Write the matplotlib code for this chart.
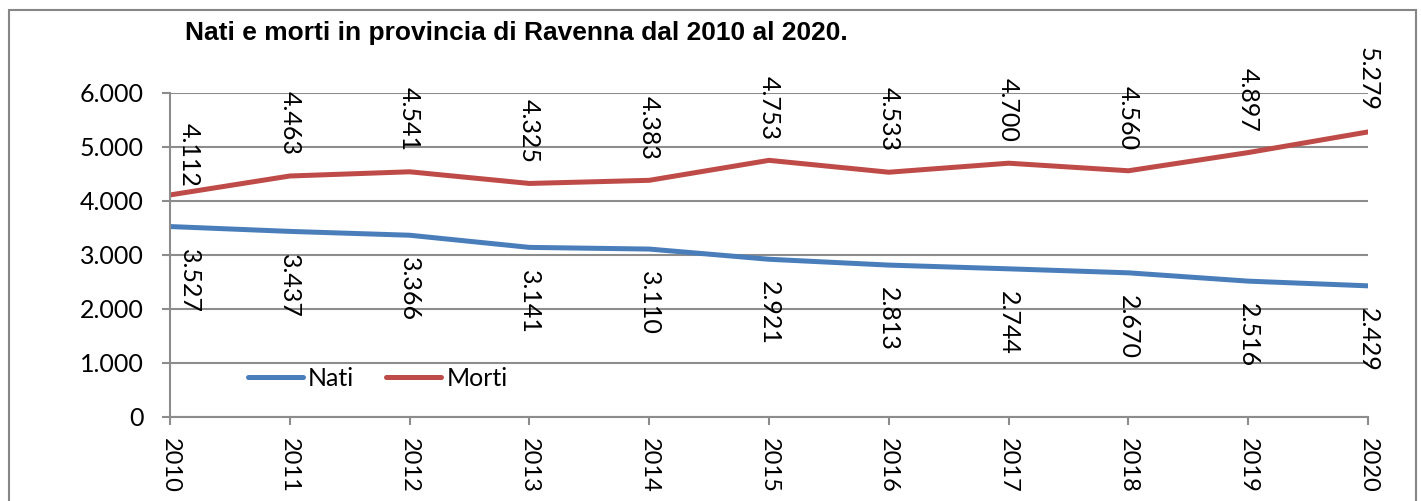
import matplotlib.pyplot as plt
from matplotlib.patches import Rectangle
from matplotlib.ticker import FuncFormatter

years = ["2010", "2011", "2012", "2013", "2014", "2015",
         "2016", "2017", "2018", "2019", "2020"]
nati = [3527, 3437, 3366, 3141, 3110, 2921, 2813, 2744, 2670, 2516, 2429]
morti = [4112, 4463, 4541, 4325, 4383, 4753, 4533, 4700, 4560, 4897, 5279]

BLUE = "#4A7EBB"
RED = "#BE4B48"
GRID = "#8C8C8C"
FONT = "Lato"
FS = 18


def it_num(v):
    # Italian thousands separator
    return f"{int(round(v)):,}".replace(",", ".")


fig = plt.figure(figsize=(14.21, 5.01), dpi=100)
fig.patches.append(Rectangle((9 / 1421, -0.1), 1407 / 1421, 1.1 - 10 / 501,
                             transform=fig.transFigure, fill=False,
                             edgecolor="#868686", linewidth=1.5))

ax = fig.add_axes([170 / 1421, 84 / 501, 1198 / 1421, 324 / 501])
x = list(range(len(years)))

ax.plot(x, nati, color=BLUE, linewidth=3.6, label="Nati", solid_capstyle="round")
ax.plot(x, morti, color=RED, linewidth=3.6, label="Morti", solid_capstyle="round")

# data labels
for i, v in enumerate(morti):
    dx = 14 if i == 0 else 0
    dy = 29 if i == 0 else 38
    ax.annotate(it_num(v), (i, v), xytext=(dx, dy), textcoords="offset points",
                rotation=270, ha="center", va="center", fontsize=FS, family=FONT)
for i, v in enumerate(nati):
    dx = 14 if i == 0 else 0
    ax.annotate(it_num(v), (i, v), xytext=(dx, -39), textcoords="offset points",
                rotation=270, ha="center", va="center", fontsize=FS, family=FONT)

ax.set_xlim(0, len(years) - 1)
ax.set_ylim(0, 6000)
ax.set_yticks(range(0, 6001, 1000))
ax.yaxis.set_major_formatter(FuncFormatter(lambda v, p: it_num(v)))
ax.set_xticks(x)
ax.set_xticklabels(years, rotation=270, ha="center", va="top")

ax.grid(axis="y", color=GRID, linewidth=1.5)
ax.set_axisbelow(True)
for s in ["top", "right"]:
    ax.spines[s].set_visible(False)
for s in ["left", "bottom"]:
    ax.spines[s].set_color(GRID)
    ax.spines[s].set_linewidth(1.5)

ax.tick_params(axis="y", length=6, width=1.5, color=GRID, pad=13, labelsize=FS)
ax.tick_params(axis="x", length=6, width=1.5, color=GRID, pad=9, labelsize=17)
for lbl in ax.get_xticklabels() + ax.get_yticklabels():
    lbl.set_family(FONT)

ax.legend(loc="center left", bbox_to_anchor=(0.065, 0.12), ncol=2, frameon=False,
          prop={"family": FONT, "size": FS}, handlelength=2.2, handletextpad=0.2,
          columnspacing=1.3, borderaxespad=0, borderpad=0)

fig.text(185 / 1421, 1 - 33 / 501, "Nati e morti in provincia di Ravenna dal 2010 al 2020.",
         family="Liberation Sans", fontweight="bold", fontsize=19, va="center", ha="left")

fig.savefig("out.png", dpi=100)
